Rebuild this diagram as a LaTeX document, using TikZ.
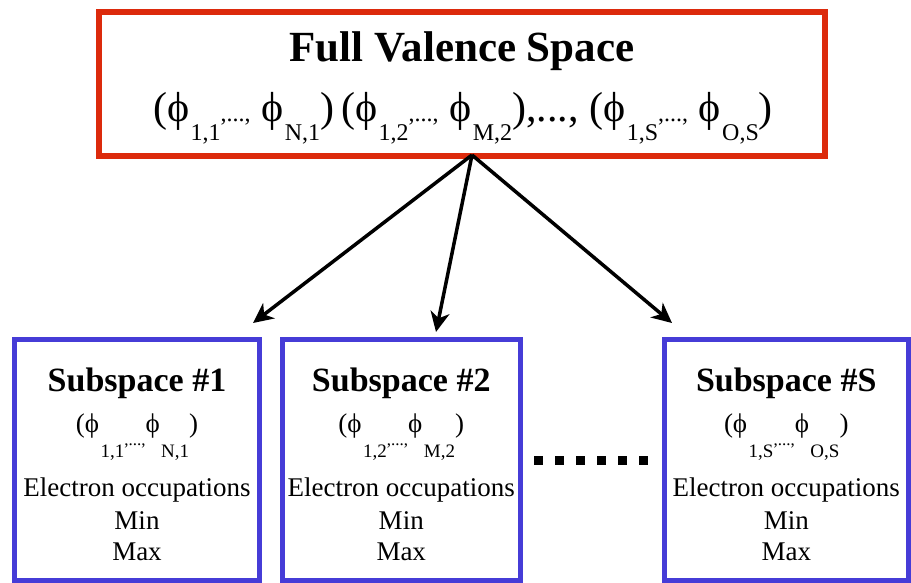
\documentclass[tikz,border=0pt]{standalone}
\usepackage{fontspec}
\setmainfont{Liberation Serif}
\usetikzlibrary{arrows.meta}
\definecolor{redbox}{RGB}{220,42,12}
\definecolor{bluebox}{RGB}{70,60,215}
\newcommand\lowsub[3]{\kern1.5pt\raisebox{-#1}{\fontsize{#2}{#2}\selectfont #3}}
\newcommand\fsz[1]{\fontsize{#1}{#1}\selectfont}
\newcommand\boxphi[2]{\fsz{27}(ϕ\lowsub{25pt}{19}{#1}\raisebox{-13pt}{\fsz{17},...,}ϕ\lowsub{25pt}{19}{#2})}
\tikzset{
  redframe/.style={draw=redbox, line width=6pt, inner sep=0pt},
  blueframe/.style={draw=bluebox, line width=5pt, inner sep=0pt},
  txt/.style={anchor=base, inner sep=0pt},
  arr/.style={line width=3.5pt, -{Stealth[length=20pt,width=19pt,inset=6pt]}},
  dotsq/.style={fill=black, minimum size=9pt, inner sep=0pt}
}
\begin{document}
\begin{tikzpicture}[x=1pt,y=-1pt]
\useasboundingbox (0,0) rectangle (911,583);
% top box
\node[redframe, minimum width=726pt, minimum height=144.5pt] (full) at (462,84.25) {};
\node[txt] (title) at (462,62) {\fsz{43}\bfseries Full Valence Space};
\node[txt] (phis) at (463,122) {\fsz{42}(ϕ\lowsub{19pt}{24}{1,1}{\fsz{24},...,} ϕ\lowsub{19pt}{24}{N,1})\,(ϕ\lowsub{19pt}{24}{1,2}{\fsz{24},...,} ϕ\lowsub{19pt}{24}{M,2}),..., (ϕ\lowsub{19pt}{24}{1,S}{\fsz{24},...,} ϕ\lowsub{19pt}{24}{O,S})};
% sub boxes
\node[blueframe, minimum width=245pt, minimum height=241pt] (b1) at (137,460) {};
\node[blueframe, minimum width=237.5pt, minimum height=241pt] (b2) at (401.25,460) {};
\node[blueframe, minimum width=243.5pt, minimum height=241pt] (b3) at (786.25,460) {};
\foreach \n/\cx/\lab/\a/\b in {1/137/1/{1,1}/{N,1}, 2/401.25/2/{1,2}/{M,2}, 3/786.25/S/{1,S}/{O,S}}{
  \node[txt] (t\n) at (\cx,391) {\fsz{34}\bfseries Subspace \#\lab};
  \node[txt] (p\n) at (\cx,432) {\boxphi{\a}{\b}};
  \node[txt] (e\n) at (\cx,496) {\fsz{27}Electron occupations};
  \node[txt] (mn\n) at (\cx,529) {\fsz{27}Min};
  \node[txt] (mx\n) at (\cx,560) {\fsz{27}Max};
}
% dots
\foreach \k in {0,...,5}{
  \node[dotsq] (d\k) at (538+21*\k,460) {};
}
% arrows
\coordinate (src) at (472,155);
\coordinate (a1) at (253,323);
\coordinate (a2) at (436,332);
\coordinate (a3) at (672,323);
\draw[arr] (src) -- (a1);
\draw[arr] (src) -- (a2);
\draw[arr] (src) -- (a3);
\end{tikzpicture}
\end{document}
